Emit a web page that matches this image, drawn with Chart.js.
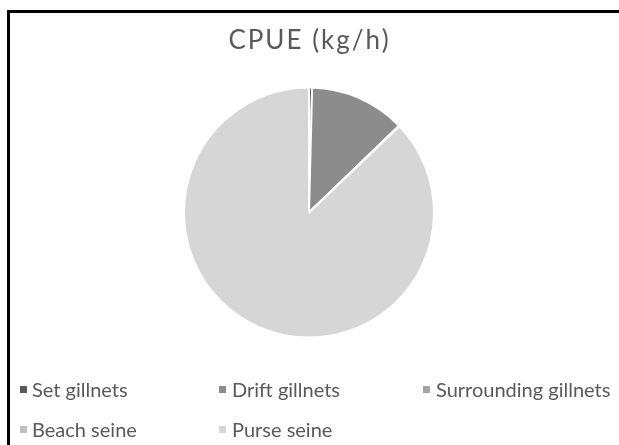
<!DOCTYPE html>
<html>
<head>
<meta charset="utf-8">
<script src="https://cdn.jsdelivr.net/npm/chart.js@4"></script>
<style>
  html, body { margin:0; padding:0; background:#fff; width:619px; height:445px; overflow:hidden; }
  #frame { position:absolute; left:7px; top:10px; width:700px; height:500px; border-top:3px solid #000; border-left:3px solid #000; box-sizing:border-box; }
  #wrap { position:absolute; left:0; top:0; width:619px; height:445px; }
  #title { position:absolute; left:0; width:619px; top:24px; text-align:center; font-family:Lato, sans-serif; font-size:26px; letter-spacing:2px; color:#595959; line-height:30px; }
  .lg { position:absolute; font-family:Lato, sans-serif; font-size:20px; color:#595959; line-height:24px; white-space:nowrap; }
  .mk { position:absolute; width:7px; height:7px; }
</style>
</head>
<body>
<div id="frame"></div>
<div id="wrap"><canvas id="c" width="619" height="445"></canvas></div>
<div id="title"></div>
<div id="legend"></div>
<script>
const chartTitle = "CPUE (kg/h)";
const categories = ["Set gillnets", "Drift gillnets", "Surrounding gillnets", "Beach seine", "Purse seine"];
const cpueValues = [0.4, 12.4, 0.05, 0.05, 87.1];
const sliceColors = ["#595959", "#8c8c8c", "#a5a5a5", "#bfbfbf", "#d6d6d6"];
// legend item anchor: [marker x, text x, baseline y]
const legendPos = [[20, 32, 397], [219, 232, 397], [423, 436, 397], [20, 32, 437], [219, 232, 437]];

document.getElementById('title').textContent = chartTitle;
const lg = document.getElementById('legend');
categories.forEach((name, i) => {
  const [mx, tx, by] = legendPos[i];
  const m = document.createElement('div');
  m.className = 'mk';
  m.style.left = mx + 'px';
  m.style.top = (by - 11) + 'px';
  m.style.background = sliceColors[i];
  lg.appendChild(m);
  const d = document.createElement('div');
  d.className = 'lg';
  d.style.left = tx + 'px';
  d.style.top = (by - 20) + 'px';
  d.textContent = name;
  lg.appendChild(d);
});

new Chart(document.getElementById('c'), {
  type: 'pie',
  data: {
    labels: categories,
    datasets: [{
      data: cpueValues,
      backgroundColor: sliceColors,
      borderColor: '#ffffff',
      borderWidth: 2
    }]
  },
  options: {
    responsive: false,
    animation: false,
    layout: { padding: { left: 183, right: 184, top: 86, bottom: 106 } },
    plugins: {
      legend: { display: false },
      tooltip: { enabled: false },
      title: { display: false }
    }
  }
});
</script>
</body>
</html>
